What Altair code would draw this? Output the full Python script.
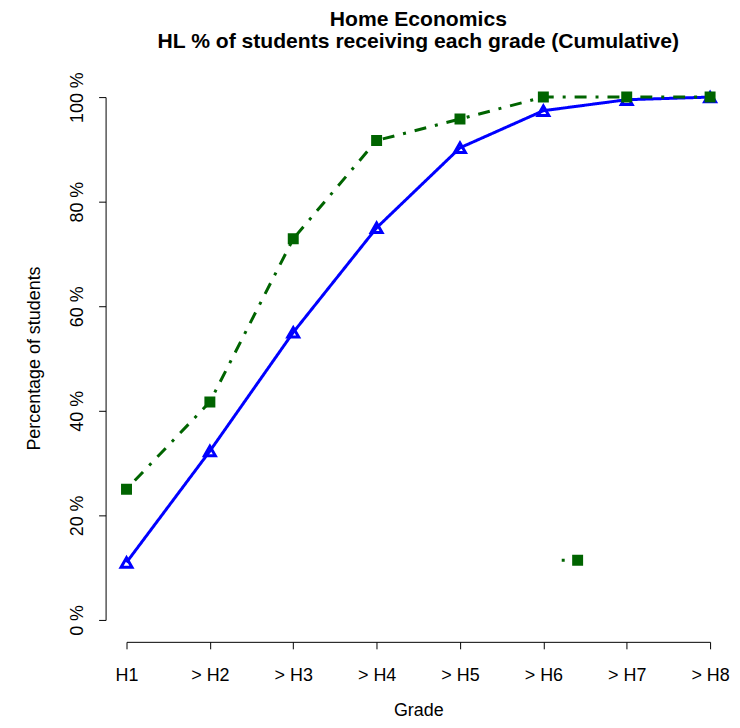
import altair as alt
import pandas as pd

grades = ["H1", "> H2", "> H3", "> H4", "> H5", "> H6", "> H7", "> H8"]
series_names = ["National", "School X"]
national = [11.0, 32.3, 55.0, 75.0, 90.3, 97.4, 99.5, 100.0]
school_x = [25.0, 41.7, 72.9, 91.7, 95.8, 100.0, 100.0, 100.0]
y_ticks = [0, 20, 40, 60, 80, 100]

BLUE = "#0000FF"
GREEN = "#006400"
FONT = "Liberation Sans"
DOTDASH = [3, 9, 12, 9]

# legend keys drawn as R does: line segment + marker (unit square symbol paths)
KEY_NATIONAL = "M-2.46,0H2.46M0,-0.73L-0.843,0.73L0.843,0.73Z"
KEY_SCHOOL = ("M-2.46,0H-2.0"
              "M-0.615,-0.615H0.615V0.615H-0.615Z"
              "M-0.385,-0.385H0.385V0.385H-0.385Z"
              "M-0.154,-0.154H0.154V0.154H-0.154Z")

rows = []
for name, vals in zip(series_names, [national, school_x]):
    for g, v in zip(grades, vals):
        rows.append({"grade": g, "pct": v, "series": name, "series_key": name})
df = pd.DataFrame(rows)

is_school = alt.datum.series == "School X"

x_enc = alt.X(
    "grade:N",
    sort=grades,
    scale=alt.Scale(type="point", padding=0),
    axis=alt.Axis(
        title="Grade",
        labelAngle=0,
        offset=22,
        tickSize=7,
        labelPadding=18,
        titlePadding=17,
        domainColor="black",
        tickColor="black",
        labelColor="black",
        titleColor="black",
        labelFontSize=18,
        titleFontSize=18,
        labelFont=FONT,
        titleFont=FONT,
        titleFontWeight="normal",
        grid=False,
    ),
)
y_enc = alt.Y(
    "pct:Q",
    scale=alt.Scale(domain=[0, 100], nice=False, zero=False),
    axis=alt.Axis(
        title="Percentage of students",
        values=y_ticks,
        labelExpr="datum.value + ' %'",
        labelAngle=270,
        labelAlign="center",
        labelBaseline="bottom",
        offset=21,
        tickSize=7,
        labelPadding=12,
        domainColor="black",
        tickColor="black",
        labelColor="black",
        titleColor="black",
        labelFontSize=18,
        titleFontSize=18,
        labelFont=FONT,
        titleFont=FONT,
        titleFontWeight="normal",
        titleAngle=270,
        titleBaseline="middle",
        titleAlign="center",
        titleX=-71,
        titleY=262,
        grid=False,
    ),
)


def key_legend(symbol_path, label_color):
    return alt.Legend(
        title=None,
        orient="none",
        legendX=444,
        legendY=434,
        symbolType=symbol_path,
        symbolSize=169,
        symbolStrokeWidth=3,
        symbolOpacity=1,
        symbolFillColor="transparent",
        labelFontSize=18,
        labelFont=FONT,
        labelColor=label_color,
        labelOffset=30,
        rowPadding=2,
    )


# invisible layer that only carries the legend (one key per series)
legend_layer = alt.Chart(df).mark_point(opacity=0, filled=False, strokeWidth=3).encode(
    x=x_enc,
    y=y_enc,
    color=alt.Color(
        "series:N",
        sort=series_names,
        scale=alt.Scale(range=[BLUE, "transparent"]),
        legend=key_legend(KEY_NATIONAL, "black"),
    ),
    stroke=alt.Stroke(
        "series_key:N",
        sort=series_names,
        scale=alt.Scale(range=["transparent", GREEN]),
        legend=key_legend(KEY_SCHOOL, "transparent"),
    ),
)

lines = alt.Chart(df).mark_line(strokeWidth=3).encode(
    x=x_enc,
    y=y_enc,
    detail="series:N",
    color=alt.condition(is_school, alt.value(GREEN), alt.value(BLUE)),
    strokeDash=alt.condition(is_school, alt.value(DOTDASH), alt.value([1, 0])),
)

points = alt.Chart(df).mark_point(strokeWidth=3, opacity=1, filled=False).encode(
    x=x_enc,
    y=y_enc,
    color=alt.condition(is_school, alt.value(GREEN), alt.value(BLUE)),
    shape=alt.condition(is_school, alt.value("square"), alt.value("triangle-up")),
    fill=alt.condition(is_school, alt.value(GREEN), alt.value("transparent")),
    size=alt.condition(is_school, alt.value(64), alt.value(120)),
)

chart = (
    alt.layer(legend_layer, lines, points)
    .properties(
        width=586,
        height=525,
        background="white",
        autosize=alt.AutoSizeParams(type="none"),
        padding={"left": 119, "top": 88, "right": 22, "bottom": 97},
        title=alt.TitleParams(
            text=["Home Economics", "HL % of students receiving each grade (Cumulative)"],
            fontSize=21.2,
            font=FONT,
            fontWeight="bold",
            color="black",
            anchor="middle",
            frame="group",
            lineHeight=22,
            offset=20,
        ),
    )
    .configure_view(strokeWidth=0)
)

chart.save("out.html", embed_options={"renderer": "svg", "actions": False})
